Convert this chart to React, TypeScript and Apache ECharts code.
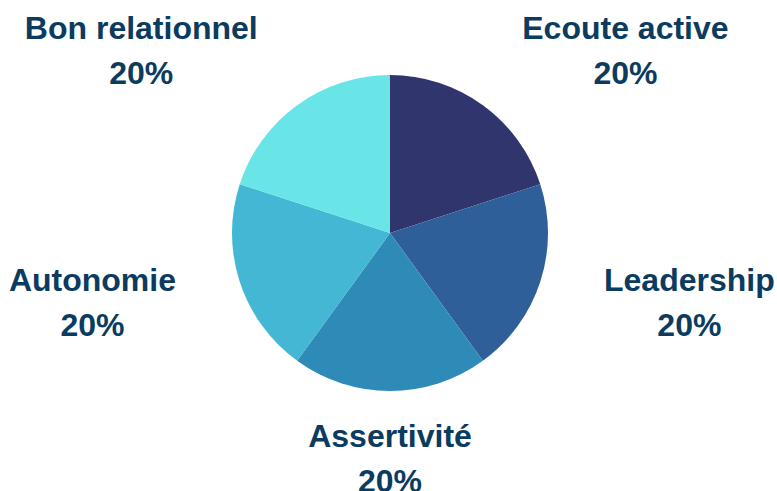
import React, { useEffect, useRef } from "react";
import * as echarts from "echarts";

const categories = ["Ecoute active", "Leadership", "Assertivité", "Autonomie", "Bon relationnel"];
const values = [20, 20, 20, 20, 20];
const colors = ["#31356e", "#2e5f99", "#2e8bb8", "#43b7d4", "#6ae5e7"];

const CX = 390;
const CY = 233;
const RADIUS = 158;
const LABEL_RX = 225;
const LABEL_RY = 180;

export default function App() {
  const ref = useRef<HTMLDivElement>(null);
  useEffect(() => {
    if (!ref.current) return;
    const chart = echarts.init(ref.current, null, { renderer: "svg" });
    const total = values.reduce((a, b) => a + b, 0);
    const midAngles: number[] = [];
    let cum = 0;
    values.forEach((v) => {
      midAngles.push(((90 - ((cum + v / 2) / total) * 360) * Math.PI) / 180);
      cum += v;
    });
    chart.setOption({
      animation: false,
      backgroundColor: "#ffffff",
      series: [
        {
          type: "pie",
          center: [CX, CY],
          radius: RADIUS,
          startAngle: 90,
          clockwise: true,
          avoidLabelOverlap: false,
          emphasis: { disabled: true },
          data: categories.map((c, i) => ({ name: c, value: values[i], itemStyle: { color: colors[i] } })),
          label: {
            show: true,
            position: "outside",
            formatter: (p: any) => `${p.name}\n${Math.round(p.percent)}%`,
            fontFamily: "Liberation Sans, Arial, sans-serif",
            fontWeight: "bold",
            fontSize: 32,
            lineHeight: 45,
            color: "#0b3b5f",
          },
          labelLine: { show: false },
          labelLayout: (params: any) => {
            const a = midAngles[params.dataIndex];
            const c = Math.cos(a);
            const s = Math.sin(a);
            const w = params.labelRect.width;
            const h = params.labelRect.height;
            const sign = Math.abs(c) < 0.01 ? 0 : c > 0 ? 1 : -1;
            return {
              x: CX + LABEL_RX * c + (sign * w) / 2,
              y: CY - s * (LABEL_RY + h / 2),
              align: "center",
              verticalAlign: "middle",
            };
          },
        },
      ],
    });
    return () => chart.dispose();
  }, []);
  return (
    <div
      ref={ref}
      style={{ position: "absolute", left: 0, top: 0, width: 777, height: 491 }}
    />
  );
}
